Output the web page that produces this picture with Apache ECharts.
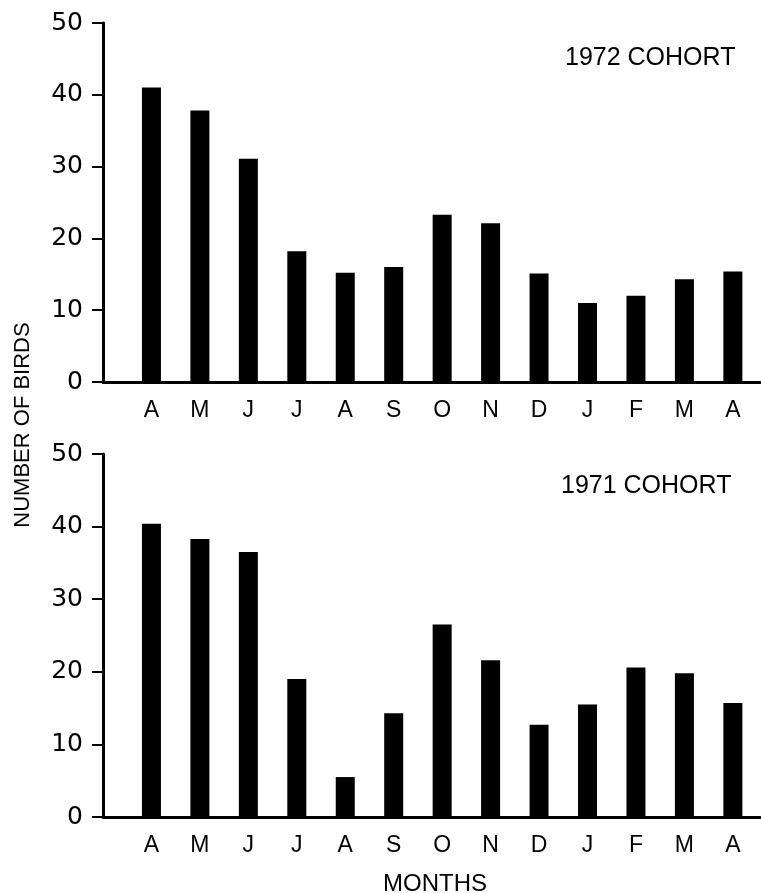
<!DOCTYPE html>
<html>
<head>
<meta charset="utf-8">
<script src="https://cdn.jsdelivr.net/npm/echarts@6/dist/echarts.min.js"></script>
<style>
html,body{margin:0;padding:0;background:#fff;}
#chart{width:761px;height:893px;}
</style>
</head>
<body>
<div id="chart"></div>
<script>
const months = ['A','M','J','J','A','S','O','N','D','J','F','M','A'];
const cohort1972 = [41.0, 37.8, 31.1, 18.2, 15.2, 16.0, 23.3, 22.1, 15.1, 11.0, 12.0, 14.3, 15.4];
const cohort1971 = [40.4, 38.3, 36.5, 19.0, 5.5, 14.3, 26.5, 21.6, 12.7, 15.5, 20.6, 19.8, 15.7];
const yMin = 0, yMax = 50, yStep = 10;
const panelTitles = ['1972 COHORT', '1971 COHORT'];
const xName = 'MONTHS';
const yName = 'NUMBER OF BIRDS';

const chart = echarts.init(document.getElementById('chart'), null, {renderer: 'canvas'});
const grids = [
  {left: 103, right: 1, top: 23, height: 359},
  {left: 103, right: 1, top: 454, height: 363}
];
function xAxisFor(idx) {
  return {
    gridIndex: idx, type: 'value', min: -1, max: 12.56, interval: 1,
    axisLine: {show: true, onZero: false, lineStyle: {color: '#000', width: 3}},
    axisTick: {show: false}, splitLine: {show: false},
    axisLabel: {
      color: '#000', fontFamily: 'Liberation Sans', fontSize: 23, margin: 17,
      showMaxLabel: false,
      formatter: v => (Number.isInteger(v) && v >= 0 && v < months.length) ? months[v] : ''
    }
  };
}
function yAxisFor(idx) {
  return {
    gridIndex: idx, type: 'value', min: yMin, max: yMax, interval: yStep,
    axisLine: {show: true, onZero: false, lineStyle: {color: '#000', width: 3}},
    axisTick: {show: true, length: 11, lineStyle: {color: '#000', width: 2}},
    splitLine: {show: false},
    axisLabel: {color: '#000', fontFamily: 'DejaVu Sans', fontSize: 25, margin: 20}
  };
}
function seriesFor(idx, vals) {
  return {
    type: 'bar', xAxisIndex: idx, yAxisIndex: idx,
    data: vals.map((v, i) => [i, v]),
    barWidth: 19, itemStyle: {color: '#000'}, silent: true
  };
}
chart.setOption({
  animation: false,
  backgroundColor: '#fff',
  title: [
    {text: panelTitles[0], left: 560, top: 41, textStyle: {fontFamily: 'Liberation Sans', fontSize: 25, fontWeight: 'normal', color: '#000'}},
    {text: panelTitles[1], left: 556, top: 469, textStyle: {fontFamily: 'Liberation Sans', fontSize: 25, fontWeight: 'normal', color: '#000'}},
    {text: xName, left: 430, top: 867, textAlign: 'center', textStyle: {fontFamily: 'Liberation Sans', fontSize: 24, fontWeight: 'normal', color: '#000'}}
  ],
  graphic: [{
    type: 'text', x: 23, y: 425, rotation: Math.PI / 2,
    style: {text: yName, fontFamily: 'Liberation Sans', fontSize: 22, fill: '#000', align: 'center', verticalAlign: 'middle'}
  }],
  grid: grids,
  xAxis: [xAxisFor(0), xAxisFor(1)],
  yAxis: [yAxisFor(0), yAxisFor(1)],
  series: [seriesFor(0, cohort1972), seriesFor(1, cohort1971)]
});
</script>
</body>
</html>
